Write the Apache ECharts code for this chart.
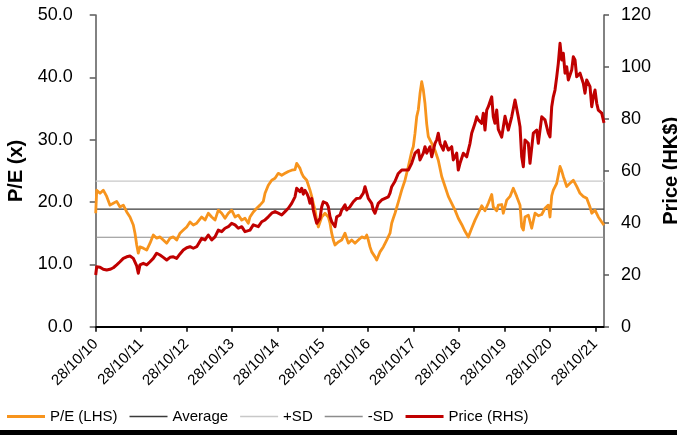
<!DOCTYPE html>
<html><head><meta charset="utf-8">
<script src="https://cdn.jsdelivr.net/npm/echarts@6/dist/echarts.min.js"></script>
<style>html,body{margin:0;padding:0;background:#fff}#c{width:677px;height:435px}</style>
</head><body><div id="c"></div>
<script>
// Dates are decimal years; the x axis counts years from 28/10/2010.
const START = 2010.822;
const END = 2022.013;
const tickLabels = ['28/10/10','28/10/11','28/10/12','28/10/13','28/10/14','28/10/15','28/10/16','28/10/17','28/10/18','28/10/19','28/10/20','28/10/21'];

const peDates = [
 2010.822,2010.844,2010.917,2010.989,2011.064,2011.137,2011.210,2011.284,2011.357,2011.430,
 2011.505,2011.577,2011.650,2011.687,2011.725,2011.760,2011.797,2011.870,2011.945,2012.018,
 2012.090,2012.165,2012.238,2012.310,2012.385,2012.458,2012.531,2012.605,2012.678,2012.751,
 2012.826,2012.898,2012.971,2013.046,2013.156,2013.229,2013.301,2013.376,2013.449,2013.521,
 2013.596,2013.669,2013.742,2013.816,2013.889,2013.962,2014.037,2014.109,2014.182,2014.219,
 2014.292,2014.367,2014.439,2014.512,2014.550,2014.622,2014.697,2014.770,2014.842,2014.917,
 2014.990,2015.063,2015.137,2015.210,2015.247,2015.283,2015.320,2015.358,2015.393,2015.468,
 2015.540,2015.578,2015.613,2015.650,2015.688,2015.723,2015.798,2015.871,2015.943,2015.981,
 2016.018,2016.053,2016.091,2016.163,2016.238,2016.311,2016.384,2016.458,2016.531,2016.604,
 2016.679,2016.751,2016.789,2016.824,2016.861,2016.899,2016.971,2017.009,2017.082,2017.154,
 2017.229,2017.302,2017.339,2017.374,2017.412,2017.484,2017.559,2017.632,2017.705,2017.779,
 2017.815,2017.852,2017.890,2017.925,2017.962,2018.000,2018.035,2018.072,2018.110,2018.145,
 2018.220,2018.292,2018.365,2018.440,2018.513,2018.585,2018.660,2018.733,2018.805,2018.880,
 2018.953,2019.026,2019.100,2019.173,2019.246,2019.321,2019.393,2019.466,2019.541,2019.576,
 2019.651,2019.686,2019.761,2019.796,2019.871,2019.944,2020.016,2020.091,2020.164,2020.201,
 2020.237,2020.274,2020.347,2020.421,2020.494,2020.567,2020.642,2020.714,2020.787,2020.824,
 2020.862,2020.897,2020.972,2021.045,2021.082,2021.117,2021.192,2021.265,2021.337,2021.412,
 2021.485,2021.557,2021.632,2021.705,2021.743,2021.815,2021.888,2021.963,2022.013
];
const peValues = [
 18.2,21.9,21.4,21.9,20.9,19.5,19.8,20.1,19.2,19.5,
 18.4,17.6,16.3,15.0,13.1,11.8,12.8,12.6,12.3,13.4,
 14.7,14.2,14.4,13.9,13.4,14.2,14.4,13.9,15.0,15.5,
 16.0,16.8,16.3,16.6,17.6,17.1,18.2,17.6,17.1,18.7,
 18.2,17.4,18.2,18.7,17.6,17.9,17.1,17.4,16.6,17.6,
 18.4,19.0,19.5,20.1,21.4,22.7,23.5,23.8,24.6,24.3,
 24.6,24.9,25.1,25.2,26.2,26.0,25.4,24.6,24.1,23.5,
 21.9,20.9,19.8,18.7,17.1,16.0,17.6,18.2,17.6,16.6,
 15.0,13.9,13.1,13.6,13.9,15.0,13.4,13.9,13.4,13.9,
 14.4,14.2,14.7,13.9,12.8,12.0,11.2,10.7,12.0,12.8,
 13.9,15.0,16.6,17.4,18.2,20.0,21.9,23.5,25.7,28.1,
 28.9,31.0,33.7,34.8,37.4,39.3,38.0,35.8,32.5,30.5,
 29.4,28.3,26.7,24.1,22.5,20.9,19.8,18.7,17.4,16.4,
 15.3,14.4,15.8,17.1,18.2,19.4,18.6,19.8,21.2,19.2,
 18.6,19.5,19.6,18.2,20.3,20.9,22.2,20.9,19.5,16.0,
 15.5,17.6,17.9,15.8,18.2,17.8,18.0,19.0,19.5,17.6,
 21.0,21.9,23.0,25.7,25.0,24.1,22.5,23.0,23.5,22.5,
 21.4,20.9,20.6,19.2,18.2,18.7,17.6,16.8,16.3
];

const priceDates = [
 2010.822,2010.844,2010.917,2010.989,2011.064,2011.137,2011.210,2011.284,2011.357,2011.430,
 2011.505,2011.577,2011.650,2011.687,2011.725,2011.760,2011.797,2011.870,2011.945,2012.018,
 2012.090,2012.165,2012.238,2012.310,2012.385,2012.458,2012.531,2012.605,2012.678,2012.751,
 2012.826,2012.898,2012.971,2013.046,2013.081,2013.156,2013.229,2013.301,2013.376,2013.449,
 2013.521,2013.596,2013.669,2013.742,2013.816,2013.889,2013.962,2014.037,2014.109,2014.147,
 2014.219,2014.292,2014.402,2014.477,2014.550,2014.622,2014.697,2014.770,2014.842,2014.917,
 2014.990,2015.063,2015.137,2015.210,2015.247,2015.283,2015.320,2015.358,2015.393,2015.430,
 2015.468,2015.503,2015.540,2015.578,2015.613,2015.650,2015.688,2015.760,2015.798,2015.833,
 2015.908,2015.943,2015.981,2016.018,2016.091,2016.128,2016.201,2016.238,2016.311,2016.348,
 2016.421,2016.494,2016.568,2016.641,2016.714,2016.751,2016.824,2016.899,2016.934,2016.971,
 2017.044,2017.119,2017.192,2017.264,2017.302,2017.339,2017.412,2017.484,2017.559,2017.632,
 2017.705,2017.779,2017.852,2017.925,2017.962,2018.035,2018.072,2018.110,2018.182,2018.220,
 2018.292,2018.330,2018.365,2018.403,2018.475,2018.513,2018.585,2018.660,2018.695,2018.770,
 2018.805,2018.843,2018.916,2018.990,2019.063,2019.100,2019.173,2019.211,2019.246,2019.321,
 2019.356,2019.393,2019.431,2019.466,2019.503,2019.541,2019.576,2019.613,2019.651,2019.686,
 2019.761,2019.834,2019.906,2019.981,2020.054,2020.126,2020.164,2020.201,2020.237,2020.274,
 2020.347,2020.384,2020.457,2020.532,2020.567,2020.642,2020.714,2020.787,2020.824,2020.862,
 2020.897,2020.934,2020.972,2021.007,2021.045,2021.082,2021.117,2021.155,2021.192,2021.227,
 2021.302,2021.337,2021.375,2021.412,2021.485,2021.557,2021.595,2021.632,2021.705,2021.743,
 2021.778,2021.815,2021.853,2021.888,2021.963,2022.013
];
const priceValues = [
 19.9,23.1,22.9,22.1,21.8,22.1,22.7,23.8,25.0,26.3,
 26.9,27.2,26.3,25.7,23.4,20.6,23.8,24.4,23.8,25.0,
 26.3,28.3,27.6,26.7,25.7,26.7,26.9,26.3,28.0,29.5,
 30.4,30.8,30.2,30.8,31.5,34.0,33.4,35.3,33.4,34.6,
 37.2,36.6,37.9,38.5,39.8,39.2,37.9,38.5,36.6,36.0,
 37.2,39.2,38.5,40.4,41.1,42.3,43.7,44.3,43.7,43.0,
 44.3,45.6,47.5,50.0,53.3,53.9,52.0,53.3,51.0,52.5,
 51.4,50.0,47.5,49.4,44.9,42.3,39.8,41.7,46.2,48.1,
 47.5,46.2,42.3,40.4,38.5,42.3,43.0,44.9,46.9,44.9,
 46.2,48.1,49.4,49.5,51.4,53.9,49.4,47.5,44.9,43.7,
 47.5,48.8,49.4,50.0,51.4,53.9,56.0,59.0,60.3,60.3,
 60.3,62.9,66.8,68.0,64.2,66.8,69.3,66.8,69.3,65.4,
 70.6,71.9,74.5,70.6,68.0,71.2,68.0,69.3,64.2,66.8,
 60.3,62.9,66.8,65.4,70.6,74.5,78.3,80.8,79.6,78.3,
 82.2,75.7,83.4,84.7,86.6,88.5,80.8,78.3,83.4,76.0,
 73.0,81.0,75.7,80.8,87.3,80.8,77.0,65.4,61.6,71.9,
 70.6,62.9,74.5,75.7,70.6,80.8,79.6,74.5,73.1,84.7,
 88.5,91.1,96.2,101.4,109.1,102.7,105.3,97.6,100.1,95.0,
 98.8,103.9,102.7,96.2,97.6,93.7,89.9,95.0,92.4,84.7,
 88.5,91.1,86.0,83.4,82.2,78.5
];

const peAverage = 18.85;
const pePlusSD = 23.35;
const peMinusSD = 14.35;

const FONT = '"Liberation Sans", Arial, sans-serif';
const span = END - START;
function pairs(dates, vals) { return dates.map((d, i) => [d - START, vals[i]]); }
function flat(v) { return [[0, v], [span, v]]; }

const THICK = 'path://M0 0H38V3H0Z';
const THIN = 'path://M0 0H38V1.3H0Z';

const chart = echarts.init(document.getElementById('c'), null, { renderer: 'canvas' });
chart.setOption({
  animation: false,
  backgroundColor: '#fff',
  textStyle: { fontFamily: FONT },
  grid: { left: 95.7, right: 73, top: 15, bottom: 108.3, outerBoundsMode: 'none', containLabel: false },
  legend: {
    left: 7, top: 409, padding: 0, itemWidth: 38, itemHeight: 14, itemGap: 12,
    textStyle: { fontFamily: FONT, fontSize: 15, color: '#000' },
    data: [
      { name: 'P/E (LHS)', icon: THICK },
      { name: 'Average', icon: THIN },
      { name: '+SD', icon: THIN },
      { name: '-SD', icon: THIN },
      { name: 'Price (RHS)', icon: THICK }
    ]
  },
  xAxis: {
    type: 'value', min: 0, max: span, interval: 1,
    axisLine: { lineStyle: { color: '#000', width: 2 } },
    axisTick: { length: 5, lineStyle: { color: '#000', width: 1.5 } },
    splitLine: { show: false },
    axisLabel: {
      rotate: 45, margin: 15, fontSize: 15, color: '#000', fontFamily: FONT,
      showMaxLabel: false,
      formatter: v => (Math.abs(v - Math.round(v)) < 1e-6 && tickLabels[Math.round(v)]) || ''
    }
  },
  yAxis: [{
    type: 'value', min: 0, max: 50, interval: 10, position: 'left',
    name: 'P/E (x)', nameLocation: 'middle', nameGap: 62, nameRotate: 90,
    nameTextStyle: { fontFamily: FONT, fontSize: 20, fontWeight: 'bold', color: '#000' },
    axisLine: { show: true, lineStyle: { color: '#595959', width: 1.5 } },
    axisTick: { show: true, length: 6, lineStyle: { color: '#595959', width: 1.5 } },
    splitLine: { show: false },
    axisLabel: { margin: 23, fontSize: 18, color: '#000', fontFamily: FONT, formatter: v => v.toFixed(1) }
  }, {
    type: 'value', min: 0, max: 120, interval: 20, position: 'right',
    name: 'Price (HK$)', nameLocation: 'middle', nameGap: 52, nameRotate: 90,
    nameTextStyle: { fontFamily: FONT, fontSize: 20, fontWeight: 'bold', color: '#000' },
    axisLine: { show: true, lineStyle: { color: '#595959', width: 1.5 } },
    axisTick: { show: true, length: 5, lineStyle: { color: '#595959', width: 1.5 } },
    splitLine: { show: false },
    axisLabel: { margin: 17, fontSize: 18, color: '#000', fontFamily: FONT }
  }],
  series: [
    { name: 'P/E (LHS)', type: 'line', yAxisIndex: 0, symbol: 'none', z: 3,
      data: pairs(peDates, peValues), color: '#F7941D',
      lineStyle: { color: '#F7941D', width: 2.8, join: 'round' } },
    { name: 'Average', type: 'line', yAxisIndex: 0, symbol: 'none', z: 2,
      data: flat(peAverage), color: '#3a3a3a',
      lineStyle: { color: '#3a3a3a', width: 1.2 } },
    { name: '+SD', type: 'line', yAxisIndex: 0, symbol: 'none', z: 2,
      data: flat(pePlusSD), color: '#c8c8c8',
      lineStyle: { color: '#c8c8c8', width: 1.2 } },
    { name: '-SD', type: 'line', yAxisIndex: 0, symbol: 'none', z: 2,
      data: flat(peMinusSD), color: '#8c8c8c',
      lineStyle: { color: '#8c8c8c', width: 1.2 } },
    { name: 'Price (RHS)', type: 'line', yAxisIndex: 1, symbol: 'none', z: 4,
      data: pairs(priceDates, priceValues), color: '#C00000',
      lineStyle: { color: '#C00000', width: 3, join: 'round' } }
  ],
  graphic: [{
    type: 'rect', left: 0, top: 430, shape: { width: 677, height: 5 },
    style: { fill: '#000' }, silent: true
  }]
});
</script>
</body></html>
